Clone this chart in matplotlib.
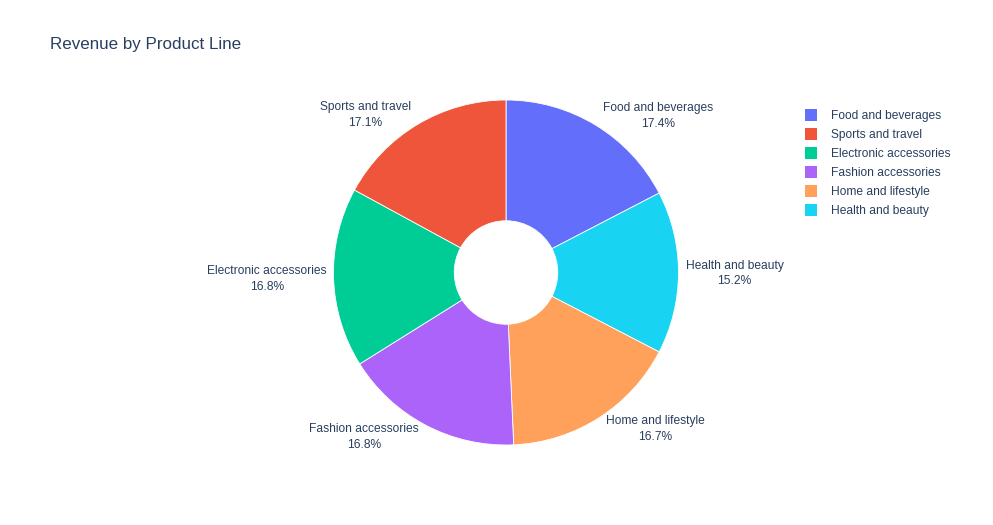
import numpy as np
import matplotlib
matplotlib.use("Agg")
import matplotlib.pyplot as plt
from matplotlib.patches import Rectangle

# product line revenue (legend / sorted order)
product_lines = ["Food and beverages", "Sports and travel", "Electronic accessories",
                 "Fashion accessories", "Home and lifestyle", "Health and beauty"]
revenue = [56144.84, 55122.83, 54337.53, 54305.90, 53861.91, 49193.74]
colors = ["#636efa", "#EF553B", "#00cc96", "#ab63fa", "#FFA15A", "#19d3f3"]

# drawing order around the donut (clockwise from 12 o'clock)
draw_order = [0, 5, 4, 3, 2, 1]

plt.rcParams['font.family'] = ['Liberation Sans', 'DejaVu Sans']
TXT = "#2a3f5f"
W, H = 993, 525

fig = plt.figure(figsize=(W / 100, H / 100), dpi=100)
ax = fig.add_axes([0, 0, 1, 1])

cx, cy = 506, H - 272.5
R = 172.5
hole = 0.3

vals = [revenue[i] for i in draw_order]
cols = [colors[i] for i in draw_order]
wedges, _ = ax.pie(vals, colors=cols, startangle=90, counterclock=False,
                   center=(cx, cy), radius=R, frame=True,
                   wedgeprops=dict(width=R * (1 - hole), edgecolor="white", linewidth=0.6))
ax.set_xlim(0, W)
ax.set_ylim(0, H)
ax.set_aspect("equal")
ax.axis("off")

total = sum(revenue)
for w, i in zip(wedges, draw_order):
    mid = np.deg2rad((w.theta1 + w.theta2) / 2)
    px = cx + R * np.cos(mid)
    py = cy + R * np.sin(mid)
    side = 1 if np.cos(mid) >= 0 else -1
    tx = px + 7 * side
    ty = py + 12 * np.sin(mid) - 1
    pct = revenue[i] / total * 100
    ax.text(tx, ty, f"{product_lines[i]}\n{pct:.1f}%", ha="left" if side > 0 else "right",
            va="center", multialignment="center", fontsize=8.64, color=TXT, linespacing=1.4)

# legend
for k, (name, c) in enumerate(zip(product_lines, colors)):
    ly = H - (114.5 + 19 * k)
    ax.add_patch(Rectangle((805, ly - 6), 12, 12, facecolor=c, edgecolor="none"))
    ax.text(831, ly - 1.5, name, ha="left", va="center", fontsize=8.64, color=TXT)

fig.text(50 / W, 1 - 45 / H, "Revenue by Product Line", ha="left", va="center",
         fontsize=12.24, color=TXT)

fig.savefig("out.png", dpi=100, facecolor="white")
